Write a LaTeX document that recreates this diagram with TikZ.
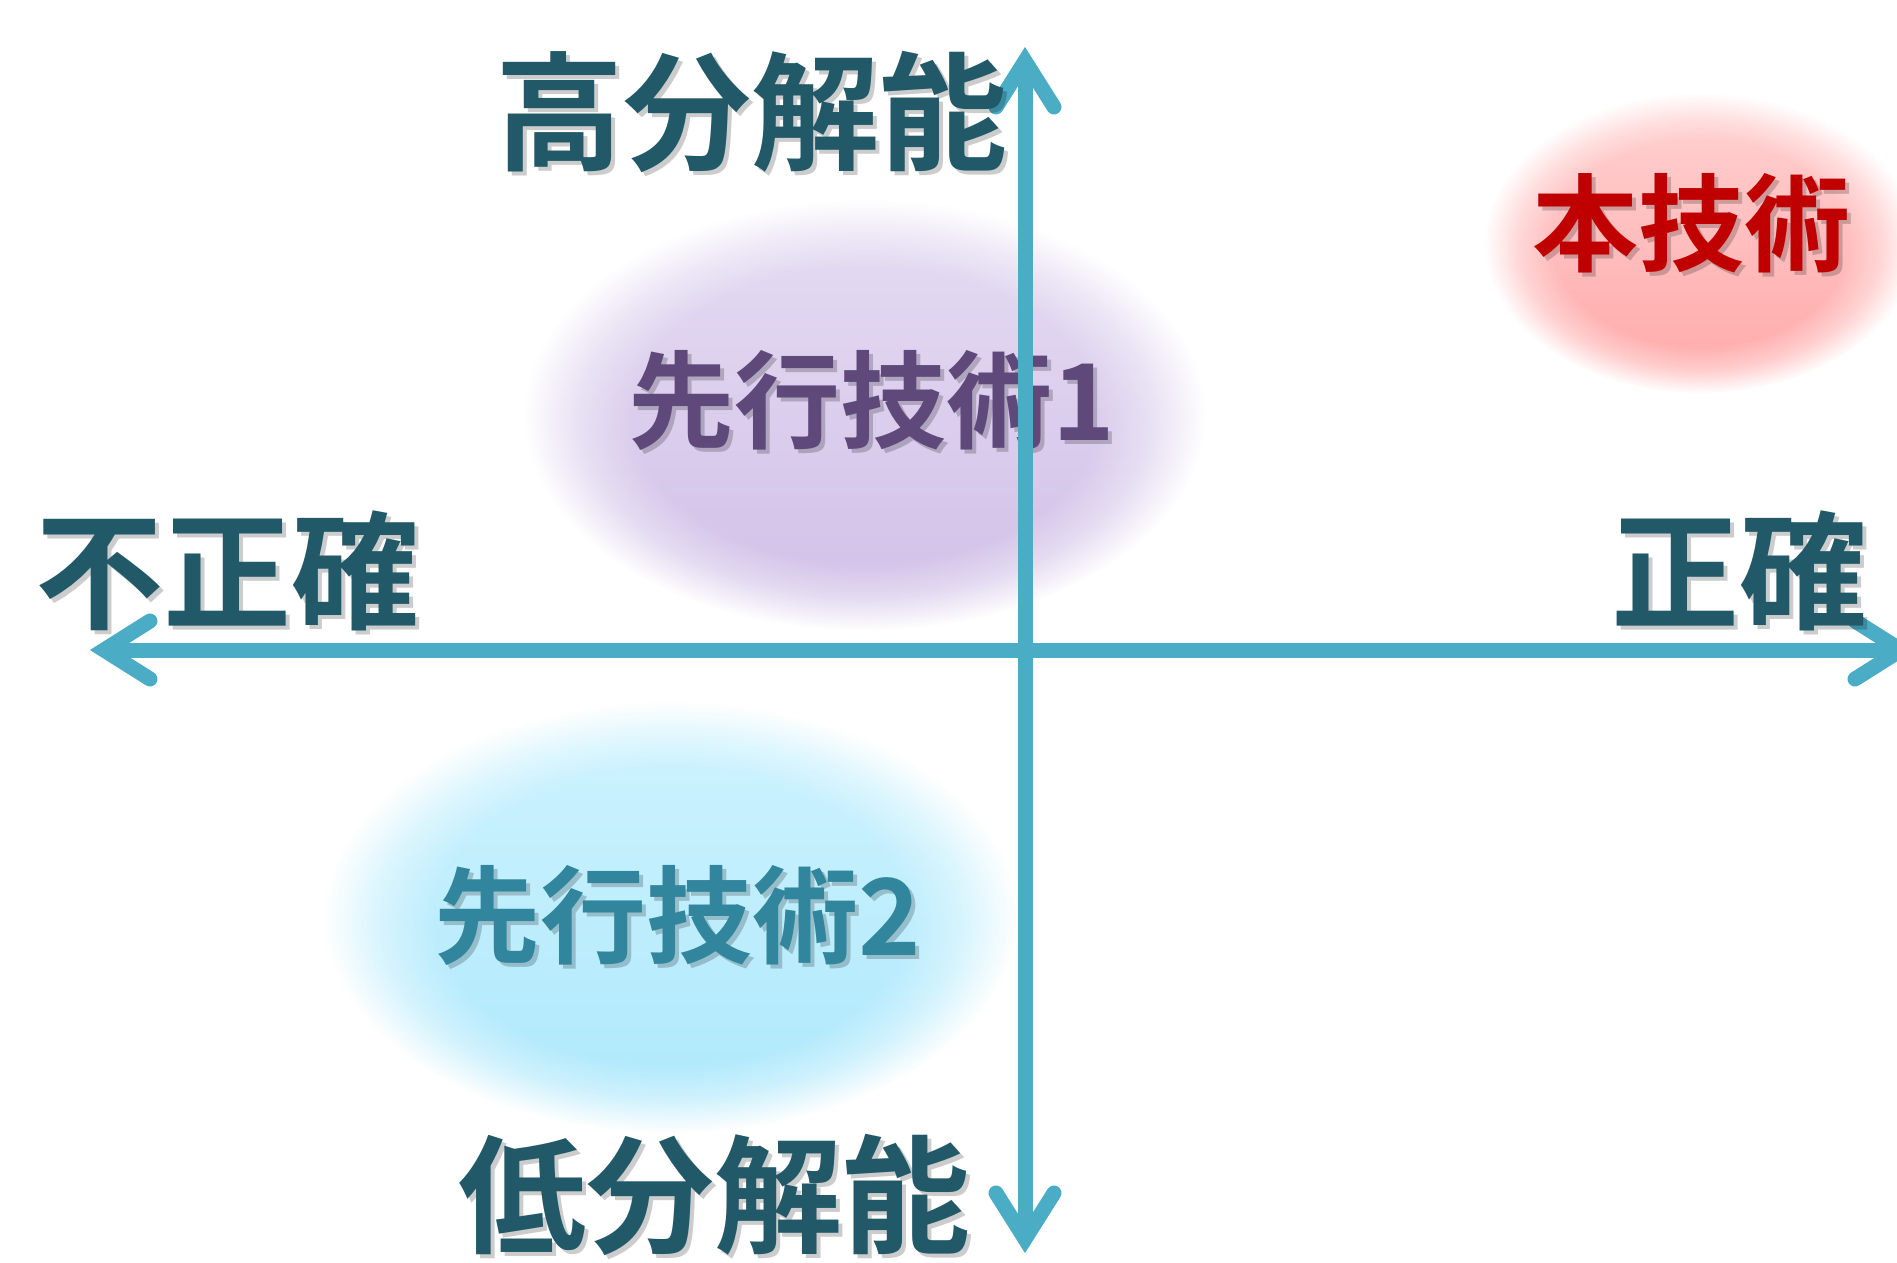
\documentclass[tikz,border=0pt]{standalone}
\usepackage{fontspec}
\newfontfamily\cjk{Noto Sans CJK JP}[BoldFont={Noto Sans CJK JP Bold}]
\usetikzlibrary{fadings}
\definecolor{axisc}{HTML}{4BACC6}
\definecolor{darkt}{HTML}{215968}
\definecolor{purpt}{HTML}{5F497A}
\definecolor{tealt}{HTML}{31859C}
\definecolor{redt}{HTML}{C00000}
\definecolor{purtop}{HTML}{E6DDF3}
\definecolor{purbot}{HTML}{D0BFE7}
\definecolor{cyantop}{HTML}{CFF3FE}
\definecolor{cyanbot}{HTML}{ACE8FC}
\definecolor{redtop}{HTML}{FFD2D2}
\definecolor{redbot}{HTML}{FFA8A8}
\pgfdeclareradialshading{blobmask}{\pgfpointorigin}{color(0bp)=(white); color(17bp)=(white); color(21bp)=(black!40); color(25bp)=(black); color(50bp)=(black)}
\pgfdeclarefading{blobfade}{\pgfuseshading{blobmask}}
\tikzset{
  axisline/.style={draw=axisc, line width=15pt, line join=miter, line cap=butt},
  chevron/.style={draw=axisc, line width=15pt, line join=miter, line cap=round, miter limit=10},
  axlbl/.style={inner sep=0pt, font=\cjk\bfseries\fontsize{128}{128}\selectfont},
  techlbl/.style={inner sep=0pt, font=\cjk\bfseries\fontsize{106}{106}\selectfont},
  shadowlbl/.style={text=black, text opacity=0.2},
  blob/.style={path fading=blobfade}
}
\begin{document}
\begin{tikzpicture}[x=1pt, y=-1pt]
\useasboundingbox (0,0) rectangle (1897,1262);
\fill[white] (0,0) rectangle (1897,1262);
% blobs
\shade[blob, top color=purtop, bottom color=purbot] (865,415) ellipse [x radius=340pt, y radius=215pt];
\shade[blob, top color=cyantop, bottom color=cyanbot] (671,917) ellipse [x radius=345pt, y radius=215pt];
\shade[blob, top color=redtop, bottom color=redbot] (1700,243) ellipse [x radius=215pt, y radius=150pt];
% technique labels
\node[techlbl, shadowlbl] (t1s) at (876,404) {先行技術1};
\node[techlbl, text=purpt] (t1) at (872,400) {先行技術1};
\node[techlbl, shadowlbl] (t2s) at (682,919) {先行技術2};
\node[techlbl, text=tealt] (t2) at (678,915) {先行技術2};
% axes
\coordinate (W) at (104,650);
\coordinate (E) at (1901,650);
\coordinate (N) at (1025,61);
\coordinate (S) at (1025,1239);
\draw[axisline] (W) -- (E);
\draw[axisline] (N) -- (S);
\draw[chevron] ([shift={(46,-29)}]W) -- (W) -- ([shift={(46,29)}]W);
\draw[chevron] ([shift={(-46,-29)}]E) -- (E) -- ([shift={(-46,29)}]E);
\draw[chevron] ([shift={(-29,46)}]N) -- (N) -- ([shift={(29,46)}]N);
\draw[chevron] ([shift={(-29,-46)}]S) -- (S) -- ([shift={(29,-46)}]S);
% axis labels
\node[axlbl, shadowlbl] (his) at (755,116) {高分解能};
\node[axlbl, text=darkt] (hi) at (751,112) {高分解能};
\node[axlbl, shadowlbl] (los) at (718,1199) {低分解能};
\node[axlbl, text=darkt] (lo) at (714,1195) {低分解能};
\node[axlbl, shadowlbl] (ins) at (231,575) {不正確};
\node[axlbl, text=darkt] (inacc) at (227,571) {不正確};
\node[axlbl, shadowlbl] (acs) at (1743,575) {正確};
\node[axlbl, text=darkt] (acc) at (1739,571) {正確};
% this technique
\node[techlbl, shadowlbl] (ours) at (1695,227) {本技術};
\node[techlbl, text=redt] (our) at (1691,223) {本技術};
\end{tikzpicture}
\end{document}
